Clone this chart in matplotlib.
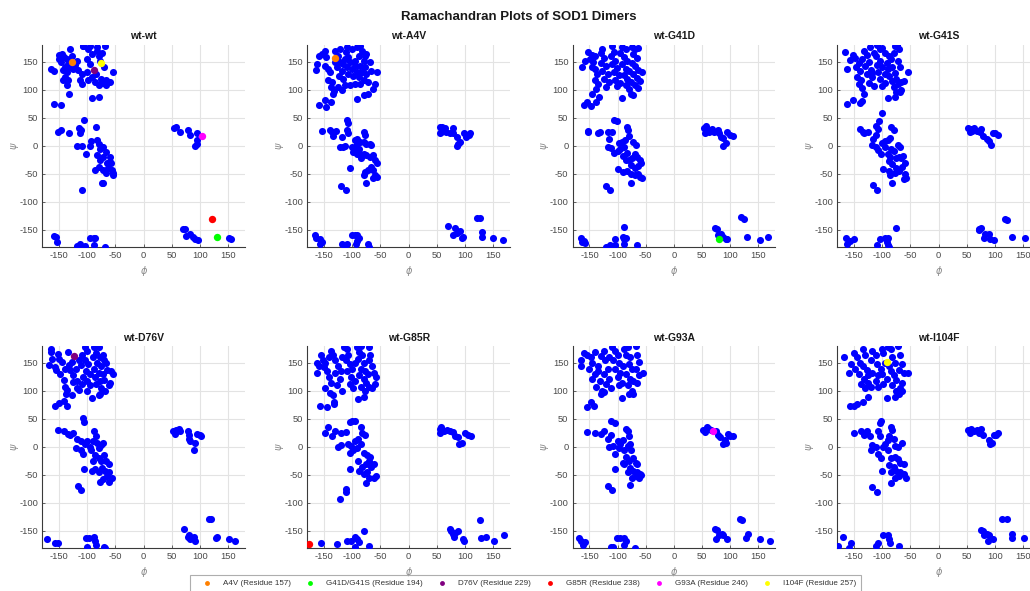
import matplotlib
matplotlib.use("Agg")
import matplotlib.pyplot as plt
from matplotlib.lines import Line2D

plt.rcParams['font.family'] = ['Liberation Sans', 'DejaVu Sans']
plt.rcParams['axes.unicode_minus'] = False

# ---- dihedral angles (phi, psi) in degrees for each dimer ----
wt_wt = [
    (-165, 137), (-160, 134), (-151, 163), (-145, 164), (-142, 158), (-150, 155), (-147, 149),
    (-137, 155), (-134, 146), (-140, 141), (-143, 135), (-137, 132), (-131, 141), (-125, 138),
    (-140, 123), (-143, 117), (-137, 108), (-134, 117), (-131, 173), (-128, 161), (-119, 152),
    (-122, 144), (-116, 135), (-110, 129), (-113, 117), (-110, 111), (-107, 179), (-98, 173),
    (-92, 164), (-101, 155), (-95, 146), (-101, 132), (-92, 123), (-98, 117), (-86, 114),
    (-83, 170), (-80, 160), (-74, 165), (-78, 152), (-70, 140), (-84, 128), (-76, 120),
    (-72, 112), (-66, 118), (-80, 108), (-54, 132), (-60, 114), (-66, 108), (-132, 92),
    (-91, 86), (-79, 88), (-159, 74), (-146, 72), (-108, 179), (-95, 178), (-82, 176), (-69, 179),
    (-106, 46), (-85, 34), (-147, 29), (-153, 25), (-132, 23), (-115, 32), (-111, 29), (-113, 22),
    (-119, 0), (-110, 0), (-102, -15), (-94, 9), (-96, 0), (-83, 10), (-80, 3), (-78, -5),
    (-72, -2), (-83, -17), (-78, -25), (-72, -20), (-67, -11), (-65, -31), (-72, -44), (-67, -49),
    (-60, -20), (-58, -30), (-63, -40), (-57, -43), (-55, -49), (-55, -52), (-59, -29), (-74, -67),
    (-72, -67), (-86, -44), (-80, -37), (-110, -79),
    (54, 31), (58, 34), (64, 25), (79, 28), (83, 19), (94, 22), (91, -1), (94, 4), (95, 10),
    (69, -149), (73, -148), (76, -161), (82, -158), (88, -163), (91, -166), (96, -168),
    (152, -164), (156, -167),
    (-160, -161), (-156, -163), (-154, -171), (-118, -179), (-113, -176), (-104, -179),
    (-95, -164), (-89, -164), (-86, -164), (-88, -177), (-69, -180),
]

wt_a4v = [
    (-164, 135), (-162, 146), (-159, 161), (-154, 164), (-149, 170), (-146, 158), (-149, 143),
    (-143, 137), (-140, 131), (-143, 117), (-137, 114), (-138, 105), (-135, 93), (-133, 98),
    (-131, 170), (-125, 161), (-122, 149), (-128, 140), (-119, 134), (-123, 125), (-116, 120),
    (-110, 176), (-111, 167), (-107, 158), (-104, 149), (-110, 140), (-101, 137), (-107, 128),
    (-98, 125), (-113, 108), (-104, 108), (-95, 111), (-92, 176), (-86, 179), (-83, 170),
    (-89, 161), (-80, 152), (-86, 143), (-78, 140), (-83, 131), (-75, 128), (-80, 117),
    (-72, 114), (-86, 111), (-75, 164), (-69, 149), (-66, 134), (-60, 111), (-63, 102),
    (-56, 131), (-91, 84), (-79, 90), (-73, 93), (-149, 82), (-138, 78), (-160, 72), (-147, 70),
    (-131, 149), (-116, 146), (-95, 143), (-92, 131), (-122, 173), (-101, 173), (-95, 152),
    (-113, 155), (-78, 161), (-89, 122), (-125, 105), (-119, 99),
    (-109, 46), (-107, 41), (-154, 27), (-140, 28), (-136, 25), (-129, 27), (-135, 17),
    (-109, 28), (-107, 23), (-119, 16), (-122, -3), (-116, -2), (-113, 0), (-101, -2),
    (-99, -11), (-95, 10), (-91, 12), (-86, 7), (-92, 4), (-95, -5), (-88, -5), (-80, 7),
    (-79, 25), (-78, 19), (-75, 4), (-69, 3), (-66, 2), (-86, -14), (-80, -14), (-75, -17),
    (-69, -20), (-63, -17), (-60, -25), (-57, -31), (-66, -37), (-72, -43), (-78, -46),
    (-80, -52), (-64, -43), (-60, -52), (-57, -55), (-63, -58), (-85, -22), (-92, -14),
    (-104, -40), (-75, -67), (-120, -71), (-111, -79),
    (56, 33), (60, 34), (64, 31), (58, 25), (56, 23), (67, 25), (73, 22), (79, 31), (79, 22),
    (85, 16), (88, 4), (86, 0), (91, 7), (98, 22), (102, 16), (108, 19), (109, 22),
    (70, -144), (82, -147), (78, -159), (85, -156), (91, -153), (94, -164), (97, -163),
    (122, -129), (127, -129), (130, -154), (130, -162), (150, -164), (168, -169),
    (-166, -159), (-164, -165), (-157, -167), (-154, -172), (-158, -175), (-119, -176),
    (-113, -178), (-110, -176), (-101, -159), (-95, -160), (-91, -159), (-89, -164),
    (-92, -170), (-93, -176), (-72, -176), (-70, -180),
]

wt_g41d = [
    (-164, 140), (-158, 151), (-152, 167), (-146, 163), (-140, 160), (-149, 155), (-143, 149),
    (-146, 140), (-140, 137), (-137, 128), (-141, 117), (-135, 111), (-139, 102), (-145, 92),
    (-134, 88), (-130, 165), (-127, 172), (-124, 156), (-130, 147), (-121, 143), (-127, 133),
    (-118, 128), (-124, 120), (-115, 114), (-120, 105), (-110, 178), (-107, 168), (-112, 160),
    (-104, 152), (-110, 146), (-101, 139), (-107, 132), (-98, 126), (-104, 118), (-95, 113),
    (-101, 106), (-92, 176), (-86, 172), (-95, 166), (-89, 158), (-83, 152), (-92, 146),
    (-86, 138), (-80, 133), (-89, 127), (-83, 120), (-77, 114), (-86, 108), (-80, 102),
    (-75, 177), (-69, 172), (-63, 174), (-72, 164), (-66, 156), (-75, 148), (-69, 142),
    (-63, 136), (-72, 129), (-66, 121), (-60, 115), (-57, 132), (-69, 108), (-63, 104),
    (-92, 85), (-77, 92), (-72, 90), (-155, 78), (-148, 71), (-138, 79), (-160, 72),
    (-106, 46), (-101, 44), (-153, 27), (-152, 24), (-135, 22), (-131, 25), (-117, 25),
    (-110, 25), (-116, 12), (-118, -2), (-112, -4), (-107, -13), (-100, -10), (-97, 5),
    (-92, 7), (-87, 10), (-84, 34), (-81, 29), (-80, 18), (-95, -5), (-88, -2), (-84, -12),
    (-90, -18), (-86, -26), (-80, -26), (-74, -21), (-69, -15), (-72, 6), (-67, 2), (-65, -20),
    (-60, -25), (-76, -35), (-70, -40), (-64, -36), (-58, -30), (-84, -45), (-76, -50),
    (-70, -52), (-64, -50), (-60, -56), (-56, -58), (-100, -42), (-77, -66), (-90, -46),
    (-120, -72), (-113, -79),
    (53, 31), (57, 35), (60, 28), (55, 23), (62, 25), (67, 30), (72, 25), (78, 28), (80, 22),
    (83, 16), (88, 14), (92, 5), (88, 0), (95, 24), (100, 19), (105, 18),
    (73, -146), (76, -149), (79, -160), (84, -158), (88, -162), (92, -167), (95, -166),
    (119, -128), (124, -131), (129, -163), (152, -168), (167, -163),
    (-165, -165), (-163, -172), (-160, -170), (-158, -173), (-120, -180), (-113, -177),
    (-105, -167), (-104, -178), (-91, -163), (-89, -167), (-88, -175), (-86, -165),
    (-88, -145), (-66, -178),
]

wt_g41s = [
    (-166, 167), (-163, 138), (-158, 153), (-152, 163), (-148, 156), (-142, 148), (-147, 140),
    (-140, 133), (-145, 122), (-138, 118), (-142, 110), (-137, 104), (-133, 93), (-139, 77),
    (-136, 80), (-152, 82), (-162, 74), (-132, 170), (-128, 162), (-122, 176), (-124, 150),
    (-130, 142), (-121, 136), (-127, 128), (-118, 122), (-124, 113), (-115, 106), (-110, 180),
    (-105, 172), (-112, 160), (-100, 175), (-104, 152), (-110, 145), (-100, 140), (-107, 132),
    (-96, 128), (-104, 120), (-95, 113), (-100, 106), (-88, 160), (-92, 148), (-85, 155),
    (-80, 165), (-90, 137), (-83, 140), (-78, 130), (-88, 124), (-82, 116), (-75, 120),
    (-80, 105), (-76, 96), (-78, 88), (-90, 85), (-78, 178), (-74, 180), (-70, 172), (-72, 152),
    (-68, 140), (-73, 110), (-66, 114), (-62, 115), (-66, 100), (-68, 96), (-55, 132),
    (-118, 130), (-136, 155), (-114, 166), (-96, 165),
    (-101, 58), (-106, 44), (-112, 35), (-108, 30), (-140, 30), (-135, 25), (-132, 22),
    (-126, 24), (-112, 20), (-116, 12), (-118, 2), (-112, -2), (-108, -8), (-103, -14),
    (-100, 5), (-96, 8), (-90, 10), (-86, 14), (-85, 33), (-80, 28), (-84, -5), (-95, -3),
    (-90, -15), (-86, -20), (-80, -10), (-76, -22), (-70, -20), (-66, -22), (-72, 2), (-68, -2),
    (-63, -18), (-60, -30), (-88, -28), (-82, -32), (-76, -40), (-70, -45), (-65, -38),
    (-60, -50), (-58, -58), (-62, -60), (-78, -48), (-88, -45), (-98, -42), (-83, -66),
    (-117, -70), (-110, -79), (-86, -52),
    (53, 31), (55, 25), (58, 30), (62, 32), (60, 27), (68, 27), (74, 24), (75, 30), (78, 18),
    (85, 12), (90, 8), (93, 2), (96, 22), (100, 22), (105, 19),
    (71, -148), (75, -147), (72, -150), (82, -157), (80, -165), (90, -158), (92, -167),
    (98, -168), (118, -130), (122, -132), (130, -163), (153, -165),
    (-165, -164), (-163, -176), (-157, -170), (-150, -167), (-110, -178), (-104, -166),
    (-95, -165), (-90, -165), (-92, -172), (-90, -178), (-88, -180), (-76, -146),
]

wt_d76v = [
    (-168, 147), (-165, 175), (-164, 169), (-163, 158), (-158, 143), (-156, 138), (-152, 166),
    (-150, 158), (-145, 152), (-148, 130), (-142, 120), (-140, 108), (-136, 102), (-138, 95),
    (-128, 93), (-142, 82), (-150, 78), (-158, 73), (-136, 74), (-135, 170), (-128, 152),
    (-120, 140), (-130, 138), (-125, 128), (-118, 118), (-110, 112), (-115, 102), (-105, 178),
    (-100, 172), (-110, 165), (-105, 155), (-98, 148), (-112, 146), (-103, 135), (-95, 130),
    (-108, 125), (-100, 118), (-95, 110), (-88, 178), (-80, 178), (-85, 168), (-90, 160),
    (-78, 160), (-82, 150), (-88, 140), (-75, 145), (-80, 132), (-86, 125), (-72, 130),
    (-78, 118), (-85, 112), (-70, 120), (-76, 106), (-68, 100), (-62, 110), (-60, 115),
    (-55, 130), (-58, 135), (-65, 138), (-66, 150), (-70, 155), (-72, 165), (-92, 88),
    (-80, 92), (-78, 94), (-118, 105), (-125, 116), (-132, 146), (-140, 140), (-115, 155),
    (-100, 100),
    (-107, 52), (-106, 45), (-152, 30), (-142, 29), (-135, 24), (-130, 22), (-125, 25),
    (-118, 14), (-112, 10), (-120, -2), (-112, -5), (-108, -12), (-104, 5), (-100, 10),
    (-96, 0), (-88, 28), (-84, 20), (-90, 10), (-82, 8), (-80, -2), (-75, 4), (-72, 8),
    (-86, -15), (-80, -20), (-75, -25), (-70, -15), (-66, -25), (-62, -30), (-68, -42),
    (-74, -38), (-80, -45), (-86, -40), (-92, -42), (-62, -45), (-56, -55), (-65, -52),
    (-72, -58), (-78, -63), (-62, -63), (-106, -40), (-116, -70), (-111, -77), (-90, -25),
    (-94, -5),
    (53, 28), (55, 24), (58, 30), (62, 32), (65, 28), (78, 28), (80, 22), (80, 14), (82, 10),
    (92, 8), (90, -5), (95, 24), (100, 22), (102, 20),
    (72, -147), (78, -160), (80, -157), (82, -165), (86, -163), (90, -160), (92, -167),
    (116, -128), (120, -129), (128, -163), (131, -161), (152, -165), (163, -167),
    (-172, -165), (-157, -171), (-153, -171), (-103, -163), (-97, -163), (-88, -160),
    (-86, -168), (-85, -175), (-100, -178), (-70, -178), (-68, -180),
]

wt_g85r = [
    (-163, 150), (-162, 133), (-160, 145), (-156, 165), (-153, 155), (-150, 142), (-145, 135),
    (-142, 125), (-138, 115), (-148, 106), (-140, 97), (-135, 92), (-132, 80), (-132, 76),
    (-145, 72), (-158, 74), (-138, 172), (-135, 165), (-130, 155), (-125, 145), (-130, 132),
    (-122, 122), (-128, 110), (-118, 100), (-115, 178), (-110, 175), (-108, 165), (-112, 155),
    (-105, 148), (-100, 140), (-110, 135), (-102, 125), (-95, 118), (-105, 112), (-98, 105),
    (-92, 178), (-85, 180), (-88, 170), (-90, 158), (-82, 165), (-80, 150), (-85, 140),
    (-78, 135), (-88, 128), (-80, 122), (-75, 115), (-85, 108), (-78, 100), (-70, 178),
    (-68, 165), (-70, 155), (-65, 145), (-72, 130), (-62, 132), (-58, 125), (-60, 112),
    (-65, 105), (-70, 108), (-90, 85), (-80, 90), (-142, 160), (-148, 150), (-120, 135),
    (-118, 160), (-95, 150),
    (-100, 46), (-96, 46), (-105, 44), (-143, 35), (-148, 25), (-136, 20), (-130, 28),
    (-120, 25), (-112, 27), (-125, 0), (-120, 3), (-108, 5), (-102, 2), (-95, 10), (-98, -5),
    (-105, -10), (-90, 15), (-85, 5), (-84, 35), (-82, 25), (-78, 22), (-92, -2), (-80, -10),
    (-74, -15), (-70, -25), (-68, -18), (-76, -30), (-82, -35), (-88, -42), (-80, -48),
    (-74, -45), (-66, -35), (-62, -30), (-70, -55), (-62, -55), (-58, -52), (-75, -65),
    (-104, -40), (-112, -75), (-111, -80), (-122, -92), (-90, -25),
    (55, 25), (55, 32), (58, 35), (62, 28), (68, 30), (73, 28), (78, 26), (82, 20), (88, 18),
    (90, 5), (95, 8), (100, 25), (105, 22), (110, 20),
    (73, -147), (76, -150), (78, -155), (80, -160), (82, -153), (88, -150), (98, -167),
    (96, -165), (127, -130), (128, -163), (138, -160), (152, -167), (170, -157),
    (-155, -171), (-128, -173), (-110, -168), (-103, -167), (-96, -160), (-92, -165),
    (-88, -170), (-95, -178), (-80, -150), (-70, -176),
]

wt_g93a = [
    (-165, 155), (-165, 145), (-160, 168), (-155, 165), (-148, 160), (-140, 170), (-145, 150),
    (-135, 145), (-140, 130), (-145, 122), (-132, 118), (-138, 108), (-128, 100), (-130, 95),
    (-125, 98), (-148, 80), (-155, 72), (-142, 73), (-130, 162), (-125, 172), (-122, 155),
    (-118, 140), (-125, 130), (-115, 122), (-120, 112), (-112, 105), (-110, 178), (-105, 172),
    (-100, 165), (-108, 155), (-98, 150), (-105, 140), (-95, 132), (-100, 125), (-92, 115),
    (-98, 110), (-88, 175), (-82, 178), (-85, 165), (-78, 160), (-90, 145), (-80, 148),
    (-75, 140), (-85, 130), (-78, 122), (-72, 118), (-82, 110), (-75, 100), (-72, 95),
    (-68, 180), (-65, 165), (-62, 152), (-68, 140), (-62, 128), (-55, 132), (-65, 115),
    (-92, 88), (-80, 95), (-135, 135), (-150, 140), (-115, 160),
    (-112, 47), (-105, 43), (-155, 27), (-140, 25), (-130, 24), (-125, 28), (-118, 15),
    (-112, 22), (-115, 0), (-108, 2), (-105, -13), (-100, 10), (-95, 5), (-98, -2), (-90, 12),
    (-85, 32), (-82, 28), (-80, 20), (-88, -5), (-82, 2), (-78, 5), (-76, -5), (-85, -18),
    (-80, -25), (-72, -20), (-68, -28), (-65, -30), (-88, -30), (-78, -38), (-72, -42),
    (-65, -45), (-60, -48), (-58, -50), (-82, -45), (-75, -55), (-68, -52), (-62, -55),
    (-78, -67), (-105, -40), (-118, -70), (-110, -77), (-90, -28),
    (52, 30), (55, 27), (58, 35), (62, 32), (65, 30), (75, 28), (78, 22), (82, 18), (88, 5),
    (90, 12), (92, 8), (96, 24), (100, 20), (105, 20),
    (73, -147), (76, -149), (75, -165), (80, -158), (85, -155), (88, -157), (95, -165),
    (118, -128), (120, -130), (128, -163), (132, -155), (152, -165), (170, -168),
    (-168, -162), (-165, -168), (-162, -175), (-158, -170), (-112, -178), (-108, -178),
    (-102, -163), (-95, -163), (-88, -162), (-85, -168), (-88, -175), (-70, -180),
]

wt_i104f = [
    (-168, 160), (-160, 133), (-155, 148), (-150, 168), (-145, 160), (-140, 150), (-148, 140),
    (-142, 130), (-135, 175), (-130, 165), (-135, 145), (-128, 138), (-132, 122), (-125, 115),
    (-130, 105), (-120, 108), (-125, 90), (-135, 80), (-150, 73), (-158, 73), (-145, 76),
    (-118, 172), (-112, 165), (-120, 155), (-110, 148), (-118, 132), (-108, 128), (-112, 118),
    (-100, 175), (-98, 168), (-102, 140), (-95, 150), (-100, 130), (-92, 122), (-98, 112),
    (-90, 178), (-85, 175), (-82, 160), (-88, 145), (-78, 150), (-85, 135), (-80, 128),
    (-75, 120), (-82, 110), (-75, 100), (-70, 95), (-78, 90), (-92, 87), (-72, 180), (-68, 165),
    (-65, 148), (-70, 138), (-62, 132), (-55, 132), (-65, 115), (-68, 105), (-65, 100),
    (-108, 108), (-138, 112), (-125, 128),
    (-102, 47), (-105, 43), (-150, 25), (-138, 28), (-132, 22), (-128, 28), (-122, 20),
    (-118, 3), (-120, -5), (-112, 0), (-108, 28), (-105, 20), (-108, -12), (-102, -20),
    (-98, 0), (-95, 5), (-90, 12), (-85, 35), (-82, 30), (-88, 20), (-80, 15), (-78, 2),
    (-72, 0), (-65, 8), (-90, -5), (-85, -20), (-78, -18), (-72, -22), (-68, -28), (-62, -30),
    (-88, -32), (-80, -35), (-75, -42), (-68, -45), (-62, -48), (-58, -55), (-70, -52),
    (-78, -55), (-85, -45), (-100, -42), (-84, -65), (-118, -72), (-110, -80),
    (52, 30), (55, 25), (58, 32), (62, 28), (68, 30), (72, 25), (75, 32), (78, 22), (90, 12),
    (92, 5), (95, 8), (98, 22), (102, 22), (105, 25),
    (75, -148), (78, -150), (80, -157), (85, -155), (88, -168), (90, -158), (96, -165),
    (113, -128), (122, -128), (130, -155), (130, -162), (151, -162),
    (-178, -177), (-170, -160), (-160, -180), (-155, -172), (-112, -177), (-108, -172),
    (-98, -158), (-90, -158), (-88, -165), (-86, -172), (-70, -176),
]

panel_titles = ['wt-wt', 'wt-A4V', 'wt-G41D', 'wt-G41S',
                'wt-D76V', 'wt-G85R', 'wt-G93A', 'wt-I104F']
panel_points = [wt_wt, wt_a4v, wt_g41d, wt_g41s,
                wt_d76v, wt_g85r, wt_g93a, wt_i104f]

# mutation sites and their legend labels
mutation_labels = ['A4V (Residue 157)', 'G41D/G41S (Residue 194)', 'D76V (Residue 229)',
                   'G85R (Residue 238)', 'G93A (Residue 246)', 'I104F (Residue 257)']
mutation_colors = ['#FF8000', '#00FF00', '#800080', '#FF0000', '#FF00FF', '#FFFF00']

# highlighted residues per panel: (mutation index, phi, psi)
highlights = [
    [(0, -127, 150), (1, 131, -163), (2, -89, 136), (3, 121, -130), (4, 103, 18), (5, -76, 148)],
    [(0, -130, 157)],
    [(1, 80, -167)],
    [],
    [(2, -123, 163)],
    [(3, -177, -173)],
    [(4, 70, 28)],
    [(5, -92, 152)],
]

ticks = [-150, -100, -50, 0, 50, 100, 150]

W, H = 1030, 591
fig = plt.figure(figsize=(W / 100, H / 100), dpi=100)
fig.patch.set_facecolor('white')

col_left = [42.3, 307.3, 572.6, 837.3]
row_top = [45.0, 346.2]
ax_w, ax_h = 202.7, 201.6

tick_color = '#4a4a4a'
for i, (title, pts) in enumerate(zip(panel_titles, panel_points)):
    r, c = divmod(i, 4)
    left = col_left[c] / W
    bottom = 1 - (row_top[r] + ax_h) / H
    ax = fig.add_axes([left, bottom, ax_w / W, ax_h / H])
    phi = [p[0] for p in pts]
    psi = [p[1] for p in pts]
    ax.scatter(phi, psi, s=26, c='#0000FF', linewidths=0, zorder=3)
    for m, hp, hs in highlights[i]:
        ax.scatter([hp], [hs], s=28, c=mutation_colors[m], linewidths=0, zorder=4)
    ax.set_xlim(-180, 180)
    ax.set_ylim(-180, 180)
    ax.set_xticks(ticks)
    ax.set_yticks(ticks)
    ax.grid(True, color='#e3e3e3', linewidth=0.8, zorder=0)
    ax.set_axisbelow(True)
    for side in ('top', 'right'):
        ax.spines[side].set_visible(False)
    for side in ('left', 'bottom'):
        ax.spines[side].set_color('#3a3a3a')
        ax.spines[side].set_linewidth(0.8)
    ax.tick_params(labelsize=6.7, colors=tick_color, length=2, width=0.6,
                   direction='in', pad=3)
    ax.set_title(title, fontsize=7.5, fontweight='bold', pad=4, color='#1a1a1a')
    ax.set_xlabel(r'$\phi$', fontsize=7, color='#8a8a8a', labelpad=3)
    ax.set_ylabel(r'$\psi$', fontsize=7, color='#8a8a8a', labelpad=-1)

fig.text(0.5035, 1 - 17 / H, 'Ramachandran Plots of SOD1 Dimers', ha='center', va='center',
         fontsize=9.5, fontweight='bold', color='#1a1a1a')

handles = [Line2D([], [], linestyle='none', marker='o', markersize=3.5,
                  markerfacecolor=col, markeredgewidth=0) for col in mutation_colors]
leg = fig.legend(handles, mutation_labels, loc='upper left', ncol=6,
                 bbox_to_anchor=(189.5 / W, 1 - 575 / H), fontsize=5.8,
                 frameon=True, fancybox=False, handlelength=3.2, handletextpad=0.4,
                 columnspacing=0.75, borderpad=0.6, borderaxespad=0)
leg.get_frame().set_edgecolor('#9a9a9a')
leg.get_frame().set_linewidth(0.8)
for t in leg.get_texts():
    t.set_color('#333333')

fig.savefig('out.png', dpi=100)
